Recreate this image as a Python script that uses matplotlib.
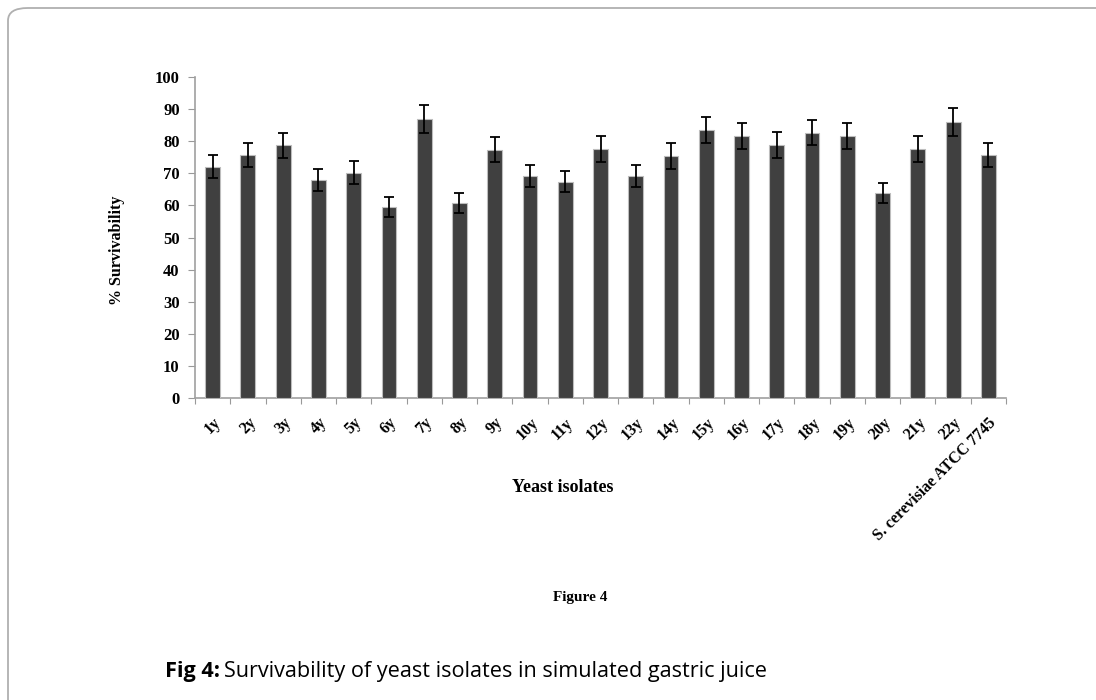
import matplotlib
matplotlib.use("Agg")
import matplotlib.pyplot as plt
from matplotlib.patches import FancyBboxPatch
import matplotlib.transforms as mtransforms
import numpy as np

categories = ["1y", "2y", "3y", "4y", "5y", "6y", "7y", "8y", "9y", "10y", "11y",
              "12y", "13y", "14y", "15y", "16y", "17y", "18y", "19y", "20y", "21y",
              "22y", "S. cerevisiae ATCC 7745"]
survivability = [72.0, 75.6, 78.7, 67.9, 70.2, 59.6, 86.9, 60.8, 77.4, 69.1, 67.4,
                 77.6, 69.1, 75.3, 83.4, 81.7, 78.9, 82.7, 81.7, 63.8, 77.6, 85.9, 75.6]
errors = [3.6, 3.7, 4.0, 3.3, 3.5, 3.1, 4.4, 3.1, 4.0, 3.5, 3.3,
          4.0, 3.5, 4.0, 4.0, 4.0, 4.0, 4.0, 4.0, 3.2, 4.0, 4.3, 3.7]
yticks = list(range(0, 101, 10))

W, H = 1096, 700
fig = plt.figure(figsize=(W / 100, H / 100), dpi=100)

# rounded frame
frame = FancyBboxPatch((8 / W, 1 - 8 / H - (H + 20) / H), (W + 20) / W, (H + 20) / H,
                       boxstyle="round,pad=0,rounding_size=0.018",
                       transform=fig.transFigure, facecolor="none",
                       edgecolor="#b0b0b0", linewidth=1.3, zorder=-1)
fig.patches.append(frame)

ax = fig.add_axes([195 / W, 1 - 398 / H, (1006 - 195) / W, (398 - 77) / H])
ax.patch.set_alpha(0)
x = np.arange(len(categories))
ax.bar(x, survivability, width=0.42, color="#404040", edgecolor="#bdbdbd", linewidth=0.8,
       yerr=errors, error_kw=dict(ecolor="black", elinewidth=1.3, capsize=3.5, capthick=1.3),
       zorder=3)
ax.set_xlim(-0.5, len(categories) - 0.5)
ax.set_ylim(0, 100)
ax.set_yticks(yticks)
ax.set_yticklabels([str(v) for v in yticks], fontfamily="Liberation Serif",
                   fontweight="bold", fontsize=12)
ax.set_xticks(np.arange(-0.5, len(categories), 1.0))
ax.set_xticklabels([])
ax.set_xticks(x, minor=True)
ax.set_xticklabels(categories, minor=True, rotation=45, ha="right", va="top",
                   rotation_mode="anchor", fontfamily="Liberation Serif",
                   fontweight="bold", fontsize=11.5)
offset = mtransforms.ScaledTranslation(5 / 100, 0, fig.dpi_scale_trans)
for lbl in ax.get_xticklabels(minor=True):
    lbl.set_transform(lbl.get_transform() + offset)
ax.tick_params(axis="x", which="minor", length=0, pad=12)
ax.tick_params(axis="x", which="major", length=4, color="#999999", direction="out")
ax.tick_params(axis="y", length=5, color="#999999", direction="out", pad=6)
for s in ["top", "right"]:
    ax.spines[s].set_visible(False)
for s in ["left", "bottom"]:
    ax.spines[s].set_color("#a0a0a0")
    ax.spines[s].set_linewidth(1.2)

fig.text(117 / W, 1 - 250 / H, "% Survivability", rotation=90, ha="center", va="center",
         fontfamily="Liberation Serif", fontweight="bold", fontsize=11.5)
fig.text(563 / W, 1 - 488 / H, "Yeast isolates", ha="center", va="center",
         fontfamily="Liberation Serif", fontweight="bold", fontsize=13)
fig.text(580 / W, 1 - 597 / H, "Figure 4", ha="center", va="center",
         fontfamily="Liberation Serif", fontweight="bold", fontsize=11)

t1 = fig.text(165 / W, 1 - 672 / H, "Fig 4:", ha="left", va="center",
              fontfamily="Open Sans", fontweight="bold", fontsize=15.6)
fig.canvas.draw()
bb = t1.get_window_extent()
fig.text((bb.x1 + 4) / W, 1 - 672 / H, "Survivability of yeast isolates in simulated gastric juice",
         ha="left", va="center", fontfamily="Open Sans", fontsize=15.6)

fig.savefig("out.png", dpi=100)
